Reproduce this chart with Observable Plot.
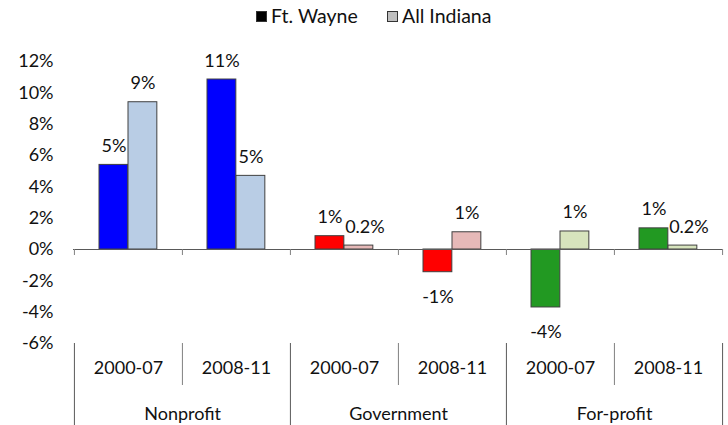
<!DOCTYPE html>
<html><head><meta charset="utf-8">
<script src="https://cdn.jsdelivr.net/npm/d3@7"></script>
<script src="https://cdn.jsdelivr.net/npm/@observablehq/plot@0.6"></script>
<style>
body{margin:0;background:#fff;font-family:Lato,sans-serif;color:#111;}
#legend{position:relative;height:32px;width:728px;font-size:19.5px;}
.item{position:absolute;top:5px;display:flex;align-items:center;line-height:22px;}
.sw{display:inline-block;width:11px;height:11px;margin-right:4px;box-sizing:border-box;}
</style></head><body>
<div id="legend"></div><div id="chart"></div>
<script>
const sectors = ["Nonprofit", "Government", "For-profit"];
const periods = ["2000-07", "2008-11"];
const series = ["Ft. Wayne", "All Indiana"];
// values in %, order: Nonprofit 2000-07, 2008-11, Government 2000-07, 2008-11, For-profit 2000-07, 2008-11
const ftWayne = [5.4, 10.85, 0.85, -1.45, -3.7, 1.35];
const allIndiana = [9.4, 4.7, 0.25, 1.1, 1.15, 0.25];
const ftWayneLabels = ["5%", "11%", "1%", "-1%", "-4%", "1%"];
const allIndianaLabels = ["9%", "5%", "0.2%", "1%", "1%", "0.2%"];
const darkColors = ["#0000FF", "#FF0000", "#229922"];
const lightColors = ["#B9CDE5", "#E6B9B8", "#D7E4BD"];
const legendColors = ["#000000", "#BFBFBF"];
const yTicks = [-6, -4, -2, 0, 2, 4, 6, 8, 10, 12];

const cats = [];
sectors.forEach(s => periods.forEach(p => cats.push({cat: s + "|" + p, sector: s, period: p})));
const rows = [];
cats.forEach((c, i) => {
  const si = sectors.indexOf(c.sector);
  rows.push({...c, series: series[0], value: ftWayne[i], label: ftWayneLabels[i], color: darkColors[si]});
  rows.push({...c, series: series[1], value: allIndiana[i], label: allIndianaLabels[i], color: lightColors[si]});
});

// legend
const legend = document.getElementById("legend");
const legendLeft = [256, 387];
series.forEach((s, i) => {
  const it = document.createElement("div");
  it.className = "item";
  it.style.left = legendLeft[i] + "px";
  it.innerHTML = `<span class="sw" style="background:${legendColors[i]};border:1px solid #333"></span><span>${s}</span>`;
  legend.appendChild(it);
});

const W = 728, H = 393, mL = 73, mR = 6, mT = 29, mB = 82;
const bw = (W - mL - mR) / cats.length;
const padOuter = 25, barW = 29;
const fw = rows.filter(d => d.series === series[0]);
const ai = rows.filter(d => d.series === series[1]);
const dxFW = -bw / 2 + padOuter + barW / 2;
const dxAI = -bw / 2 + padOuter + barW * 1.5;
const pos = d => d.value >= 0;
const neg = d => d.value < 0;
const labelStyle = {fontSize: 18, fill: "#111"};

const chart = Plot.plot({
  width: W, height: H,
  marginLeft: mL, marginRight: mR, marginTop: mT, marginBottom: mB,
  style: {fontFamily: "Lato, sans-serif", fontSize: "18px", color: "#111", background: "#fff"},
  x: {type: "band", domain: cats.map(c => c.cat), padding: 0, axis: null},
  y: {domain: [-6, 12], ticks: yTicks, tickFormat: d => d + "%", tickSize: 0, tickPadding: 20, label: null},
  marks: [
    Plot.barY(fw, {x: "cat", y: "value", fill: "color", stroke: "#404040", strokeWidth: 1, insetLeft: padOuter, insetRight: bw - padOuter - barW}),
    Plot.barY(ai, {x: "cat", y: "value", fill: "color", stroke: "#404040", strokeWidth: 1, insetLeft: padOuter + barW, insetRight: bw - padOuter - 2 * barW}),
    Plot.ruleY([0], {stroke: "#595959", strokeWidth: 1}),
    Plot.ruleX(cats, {x: "cat", y1: 0, y2: 0, insetBottom: -6, dx: -bw / 2, stroke: "#808080"}),
    Plot.ruleX(cats.slice(-1), {x: "cat", y1: 0, y2: 0, insetBottom: -6, dx: bw / 2, stroke: "#808080"}),
    // multi-level category axis
    Plot.ruleX(cats.filter(c => c.period === periods[0]), {x: "cat", dx: -bw / 2, insetTop: H - mT - mB, insetBottom: -mB, stroke: "#595959"}),
    Plot.ruleX(cats.slice(-1), {x: "cat", dx: bw / 2, insetTop: H - mT - mB, insetBottom: -mB, stroke: "#595959"}),
    Plot.ruleX(cats.filter(c => c.period === periods[1]), {x: "cat", dx: -bw / 2, insetTop: H - mT - mB, insetBottom: -42, stroke: "#808080"}),
    Plot.text(cats, {x: "cat", text: "period", frameAnchor: "bottom", lineAnchor: "middle", dy: 25, ...labelStyle}),
    Plot.text(cats.filter(c => c.period === periods[0]), {x: "cat", text: "sector", frameAnchor: "bottom", lineAnchor: "middle", dx: bw / 2, dy: 71, ...labelStyle}),
    // data labels
    Plot.text(fw.filter(pos), {x: "cat", y: "value", text: "label", dx: dxFW, dy: -13, lineAnchor: "bottom", ...labelStyle}),
    Plot.text(fw.filter(neg), {x: "cat", y: "value", text: "label", dx: dxFW, dy: 18, lineAnchor: "top", ...labelStyle}),
    Plot.text(ai.filter(d => pos(d) && d.label !== "0.2%"), {x: "cat", y: "value", text: "label", dx: dxAI, dy: -13, lineAnchor: "bottom", ...labelStyle}),
    Plot.text(ai.filter(d => pos(d) && d.label === "0.2%"), {x: "cat", y: "value", text: "label", dx: dxAI + 6, dy: -13, lineAnchor: "bottom", ...labelStyle})
  ]
});
document.getElementById("chart").appendChild(chart);
</script>
</body></html>
